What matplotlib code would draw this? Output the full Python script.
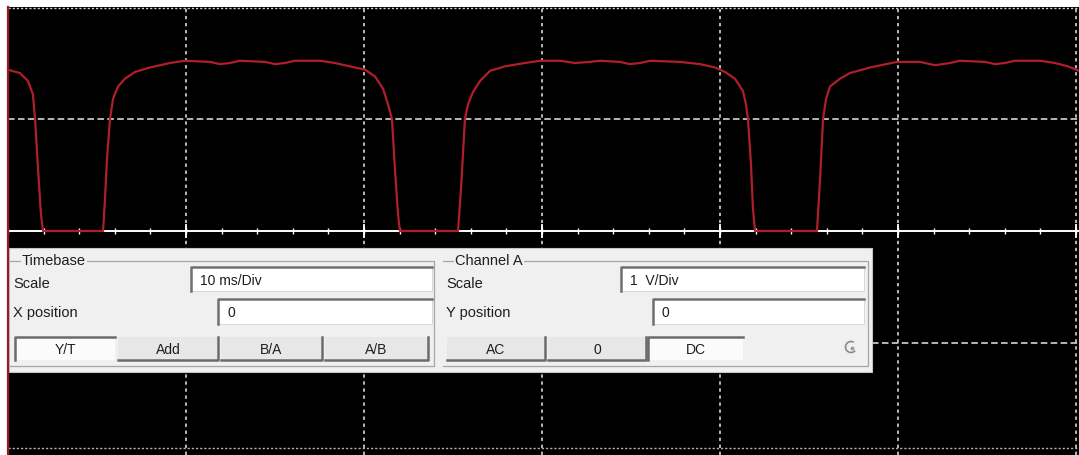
import numpy as np
import matplotlib
matplotlib.use("Agg")
import matplotlib.pyplot as plt
from matplotlib.patches import Rectangle, Arc

plt.rcParams['font.family'] = ['Liberation Sans', 'DejaVu Sans']

# trace: time in ms, channel A in volts
t_ms = [0.00, 0.67, 1.12, 1.40, 1.52, 1.69, 1.85, 1.97,
        5.34, 5.45, 5.56, 5.73, 5.90, 6.18, 6.57, 7.13, 7.98, 9.10, 9.94,
        11.35, 11.91, 12.47, 13.03, 14.44, 15.00, 15.56, 16.12, 17.53, 18.37,
        19.21, 20.06, 20.62, 21.07, 21.35, 21.57, 21.74, 21.91, 22.02,
        25.28, 25.45, 25.67, 25.84, 26.12, 26.52, 27.08, 27.92, 29.04, 29.89,
        31.01, 31.85, 32.70, 33.26, 34.38, 34.94, 35.51, 36.07, 37.75, 38.88,
        39.72, 40.28, 40.84, 41.29, 41.46, 41.57, 41.74, 41.85, 41.97,
        45.45, 45.62, 45.79, 45.96, 46.18, 46.74, 47.30, 48.43, 49.94,
        51.24, 52.08, 52.92, 53.48, 54.89, 55.45, 56.01, 56.57, 57.98, 58.82,
        59.55, 60.17]
v_volts = [1.44, 1.41, 1.34, 1.22, 1.00, 0.55, 0.15, 0.00,
           0.00, 0.29, 0.64, 1.00, 1.18, 1.29, 1.36, 1.42, 1.46, 1.50, 1.52,
           1.51, 1.49, 1.50, 1.52, 1.51, 1.49, 1.50, 1.52, 1.52, 1.50,
           1.47, 1.44, 1.38, 1.27, 1.13, 1.00, 0.55, 0.15, 0.00,
           0.00, 0.38, 1.00, 1.13, 1.24, 1.34, 1.43, 1.47, 1.50, 1.52,
           1.52, 1.50, 1.51, 1.52, 1.51, 1.49, 1.50, 1.52, 1.51, 1.49,
           1.46, 1.42, 1.36, 1.25, 1.13, 1.00, 0.60, 0.20, 0.00,
           0.00, 0.46, 1.00, 1.18, 1.29, 1.36, 1.41, 1.46, 1.51,
           1.51, 1.48, 1.50, 1.52, 1.51, 1.49, 1.50, 1.52, 1.52, 1.50,
           1.47, 1.43]

ms_per_div = 10
v_per_div = 1

timebase_scale = "10 ms/Div"
channel_scale = "1  V/Div"
x_position = "0"
y_position = "0"
timebase_buttons = ["Y/T", "Add", "B/A", "A/B"]
channel_buttons = ["AC", "0", "DC"]

W, H = 1079, 456
fig = plt.figure(figsize=(W / 100, H / 100), dpi=100, facecolor="white")

# scope screen
ax = fig.add_axes([8 / W, 0, (W - 8) / W, (H - 8) / H])
ax.set_facecolor("black")
ax.set_xlim(0, (W - 8) / 17.8)
ax.set_ylim(-2 * v_per_div, 2 * v_per_div)
ax.set_xticks([])
ax.set_yticks([])
for s in ax.spines.values():
    s.set_visible(False)

for k in range(1, 7):
    ax.axvline(k * ms_per_div, color="#e8e8e8", lw=1.1, ls=(0, (2.2, 2.4)))
for v in (1, -1):
    ax.axhline(v * v_per_div, color="#e8e8e8", lw=1.1, ls=(0, (4.3, 2.2)))
ax.axhline(1.99, color="#d0d0d0", lw=1, ls=(0, (1.6, 1.4)))
ax.axhline(-1.94, color="#b0b0b0", lw=1, ls=(0, (1.6, 1.4)))

# centre axis with small ticks
ax.axhline(0, color="white", lw=1.4)
minor = np.arange(0, 61, 2)
ax.vlines(minor, -0.03, 0.03, color="white", lw=1)
ax.vlines(np.arange(10, 61, 10), -0.06, 0.06, color="white", lw=1.3)

ax.plot(t_ms, v_volts, color="#b01e2c", lw=1.6, zorder=5)

# control panel overlay in pixel coords
ui = fig.add_axes([0, 0, 1, 1], zorder=10)
ui.set_xlim(0, W)
ui.set_ylim(H, 0)
ui.axis("off")

ui.plot([7.5, 7.5], [8, H], color="#9a1822", lw=1.6)

panel_bg = "#f0f0f0"
ui.add_patch(Rectangle((9, 249), 863, 124, facecolor=panel_bg, edgecolor="#c4c4c4", lw=0.8))

fs = 10.5
txt = "#1e1e1e"


def group(x0, x1, title):
    y0, y1 = 261.5, 367
    ui.plot([x0, x1, x1, x0], [y0, y0, y1, y1], color="#a6a6a6", lw=0.9)
    ui.text(x0 + 12, y0, title, fontsize=fs, color=txt, va="center",
            bbox=dict(facecolor=panel_bg, edgecolor="none", pad=1))


def field(x0, x1, y0, y1, value):
    ui.add_patch(Rectangle((x0, y0), x1 - x0, y1 - y0, facecolor="white",
                           edgecolor="#d8d8d8", lw=0.7))
    ui.plot([x0, x0, x1], [y1, y0, y0], color="#707070", lw=1.8)
    ui.text(x0 + 9, (y0 + y1) / 2 + 1, value, fontsize=fs - 0.5, color=txt, va="center")


def button(x0, x1, label, pressed):
    y0, y1 = 338, 361
    face = "#fbfbfb" if pressed else "#e7e7e7"
    ui.add_patch(Rectangle((x0, y0), x1 - x0, y1 - y0, facecolor=face, edgecolor="none"))
    if pressed:
        ui.plot([x0, x0, x1], [y1, y0, y0], color="#6b6b6b", lw=1.8)
    else:
        ui.plot([x0, x1, x1], [y1, y1, y0], color="#6b6b6b", lw=1.8)
    if label:
        ui.text((x0 + x1) / 2, (y0 + y1) / 2 + 1, label, fontsize=fs - 0.5,
                color=txt, ha="center", va="center")


group(10, 434, "Timebase")
group(443, 868, "Channel A")

ui.text(13, 284, "Scale", fontsize=fs, color=txt, va="center")
ui.text(13, 313, "X position", fontsize=fs, color=txt, va="center")
ui.text(446, 284, "Scale", fontsize=fs, color=txt, va="center")
ui.text(446, 313, "Y position", fontsize=fs, color=txt, va="center")

field(191, 432, 268, 292, timebase_scale)
field(218, 432, 300, 325, x_position)
field(621, 864, 268, 292, channel_scale)
field(653, 864, 300, 325, y_position)

tb_x = [(15, 115), (118, 218), (221, 322), (325, 428)]
for (x0, x1), lab in zip(tb_x, timebase_buttons):
    button(x0, x1, lab, lab == "Y/T")

ch_x = [(447, 545), (548, 646), (648, 743)]
for (x0, x1), lab in zip(ch_x, channel_buttons):
    button(x0, x1, lab, lab == "DC")

# little trigger/refresh icon at the end of the row
ui.add_patch(Arc((851, 348), 11, 11, theta1=40, theta2=300, color="#8a8a8a", lw=1.2))
ui.plot([852], [348.5], marker="o", ms=1.8, color="#9a9a9a")

fig.savefig("out.png", dpi=100, facecolor="white")
